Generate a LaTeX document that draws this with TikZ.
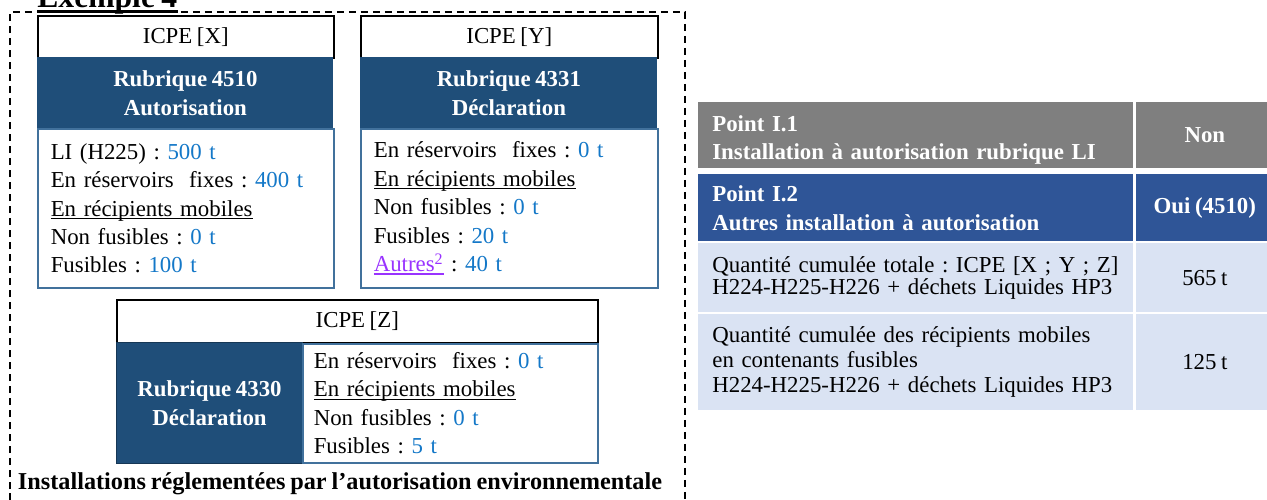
\documentclass[tikz,border=0pt]{standalone}
\usepackage{fontspec}
\setmainfont{Liberation Serif}[WordSpace=0.8]
\frenchspacing
\definecolor{bleufonce}{RGB}{31,78,121}
\definecolor{bordbleu}{RGB}{65,113,156}
\definecolor{valeur}{RGB}{20,120,200}
\definecolor{lien}{RGB}{153,51,255}
\definecolor{grisligne}{RGB}{127,127,127}
\definecolor{bleuligne}{RGB}{47,85,151}
\definecolor{bleuclair}{RGB}{218,227,243}
\newsavebox{\boiteligne}
\newcommand{\souligne}[1]{\leavevmode\sbox\boiteligne{#1}\rlap{\rule[-1.6pt]{\wd\boiteligne}{0.7pt}}\usebox\boiteligne}
\newcommand{\qte}[1]{\textcolor{valeur}{#1}}
\tikzset{
  icpe/.style={draw=black, line width=0.9pt, fill=white, inner sep=0pt, minimum height=0.84cm, anchor=north west, font=\fontsize{13}{16}\selectfont},
  rubrique/.style={fill=bleufonce, text=white, inner sep=0pt, align=center, anchor=north west, font=\bfseries\fontsize{13}{16.6}\selectfont},
  detail/.style={draw=bordbleu, line width=0.9pt, fill=white, inner xsep=0.26cm, inner ysep=0pt, align=left, anchor=north west, font=\fontsize{13}{16.2}\selectfont},
  cellule/.style={inner xsep=0.28cm, inner ysep=0pt, align=left, anchor=north west, text width=8.14cm},
  valeurcell/.style={inner sep=0pt, align=center, anchor=north west, minimum width=2.76cm},
}
\begin{document}
\begin{tikzpicture}
\useasboundingbox (0,0) rectangle (25.34,-10);

% cadre pointille
\draw[dash pattern=on 0.15cm off 0.09cm, line width=0.8pt] (0.2,-10.5) -- (0.2,-0.24) -- (13.7,-0.24) -- (13.7,-10.5);
\node[anchor=base west, inner sep=0pt, font=\bfseries\fontsize{18}{20}\selectfont] (titre) at (0.74,-0.16) {Exemple 4};
\draw[line width=0.06cm] ([yshift=-0.07cm]titre.base west) -- ([yshift=-0.07cm]titre.base east);

% ICPE X
\node[icpe, minimum width=5.92cm] (hx) at (0.74,-0.30) {ICPE [X]};
\node[rubrique, minimum width=5.92cm, minimum height=1.42cm] (rx) at (0.74,-1.14) {Rubrique 4510\\Autorisation};
\node[detail, text width=5.40cm, minimum height=3.18cm] (dx) at (0.74,-2.56) {LI (H225) : \qte{500 t}\\
En réservoirs~ fixes : \qte{400 t}\\
\souligne{En récipients mobiles}\\
Non fusibles : \qte{0 t}\\
Fusibles : \qte{100 t}};

% ICPE Y
\node[icpe, minimum width=5.94cm] (hy) at (7.20,-0.30) {ICPE [Y]};
\node[rubrique, minimum width=5.94cm, minimum height=1.42cm] (ry) at (7.20,-1.14) {Rubrique 4331\\Déclaration};
\node[detail, text width=5.42cm, minimum height=3.18cm] (dy) at (7.20,-2.56) {En réservoirs~ fixes : \qte{0 t}\\
\souligne{En récipients mobiles}\\
Non fusibles : \qte{0 t}\\
Fusibles : \qte{20 t}\\
{\color{lien}\souligne{Autres\textsuperscript{2}}} : \qte{40 t}};

% ICPE Z
\node[icpe, minimum width=9.62cm, minimum height=0.86cm] (hz) at (2.32,-5.98) {ICPE [Z]};
\node[rubrique, draw=bleufonce!70!black, line width=0.6pt, minimum width=3.72cm, minimum height=2.42cm] (rz) at (2.32,-6.84) {Rubrique 4330\\Déclaration};
\node[detail, inner xsep=0.22cm, text width=5.46cm, minimum height=2.38cm] (dz) at (6.04,-6.86) {En réservoirs~ fixes : \qte{0 t}\\
\souligne{En récipients mobiles}\\
Non fusibles : \qte{0 t}\\
Fusibles : \qte{5 t}};

\node[font=\bfseries\fontsize{13.8}{16}\selectfont] (legende) at (6.80,-9.68) {Installations réglementées par l’autorisation environnementale};

% tableau des points
\node[cellule, fill=grisligne, text=white, minimum height=1.32cm, font=\bfseries\fontsize{13}{16.4}\selectfont] (p1) at (13.96,-2.04) {\rule{0pt}{14.4pt}Point I.1\\Installation à autorisation rubrique LI};
\node[valeurcell, fill=grisligne, text=white, minimum height=1.32cm, font=\bfseries\fontsize{13}{16}\selectfont] (v1) at (22.71,-2.04) {Non};
\node[cellule, fill=bleuligne, text=white, minimum height=1.34cm, font=\bfseries\fontsize{13}{16.4}\selectfont] (p2) at (13.96,-3.48) {Point I.2\\Autres installation à autorisation};
\node[valeurcell, fill=bleuligne, text=white, minimum height=1.34cm, font=\bfseries\fontsize{13}{16}\selectfont] (v2) at (22.71,-3.48) {Oui (4510)};
\node[cellule, fill=bleuclair, minimum height=1.38cm, font=\fontsize{13}{12.8}\selectfont] (p3) at (13.96,-4.86) {Quantité cumulée totale : ICPE [X ; Y ; Z]\\H224-H225-H226 + déchets Liquides HP3};
\node[valeurcell, fill=bleuclair, minimum height=1.38cm, font=\fontsize{13}{16}\selectfont] (v3) at (22.71,-4.86) {565 t};
\node[cellule, fill=bleuclair, minimum height=1.92cm, font=\fontsize{13}{14.2}\selectfont] (p4) at (13.96,-6.28) {Quantité cumulée des récipients mobiles\\en contenants fusibles\\H224-H225-H226 + déchets Liquides HP3};
\node[valeurcell, fill=bleuclair, minimum height=1.92cm, font=\fontsize{13}{16}\selectfont] (v4) at (22.71,-6.28) {125 t};
\end{tikzpicture}
\end{document}
